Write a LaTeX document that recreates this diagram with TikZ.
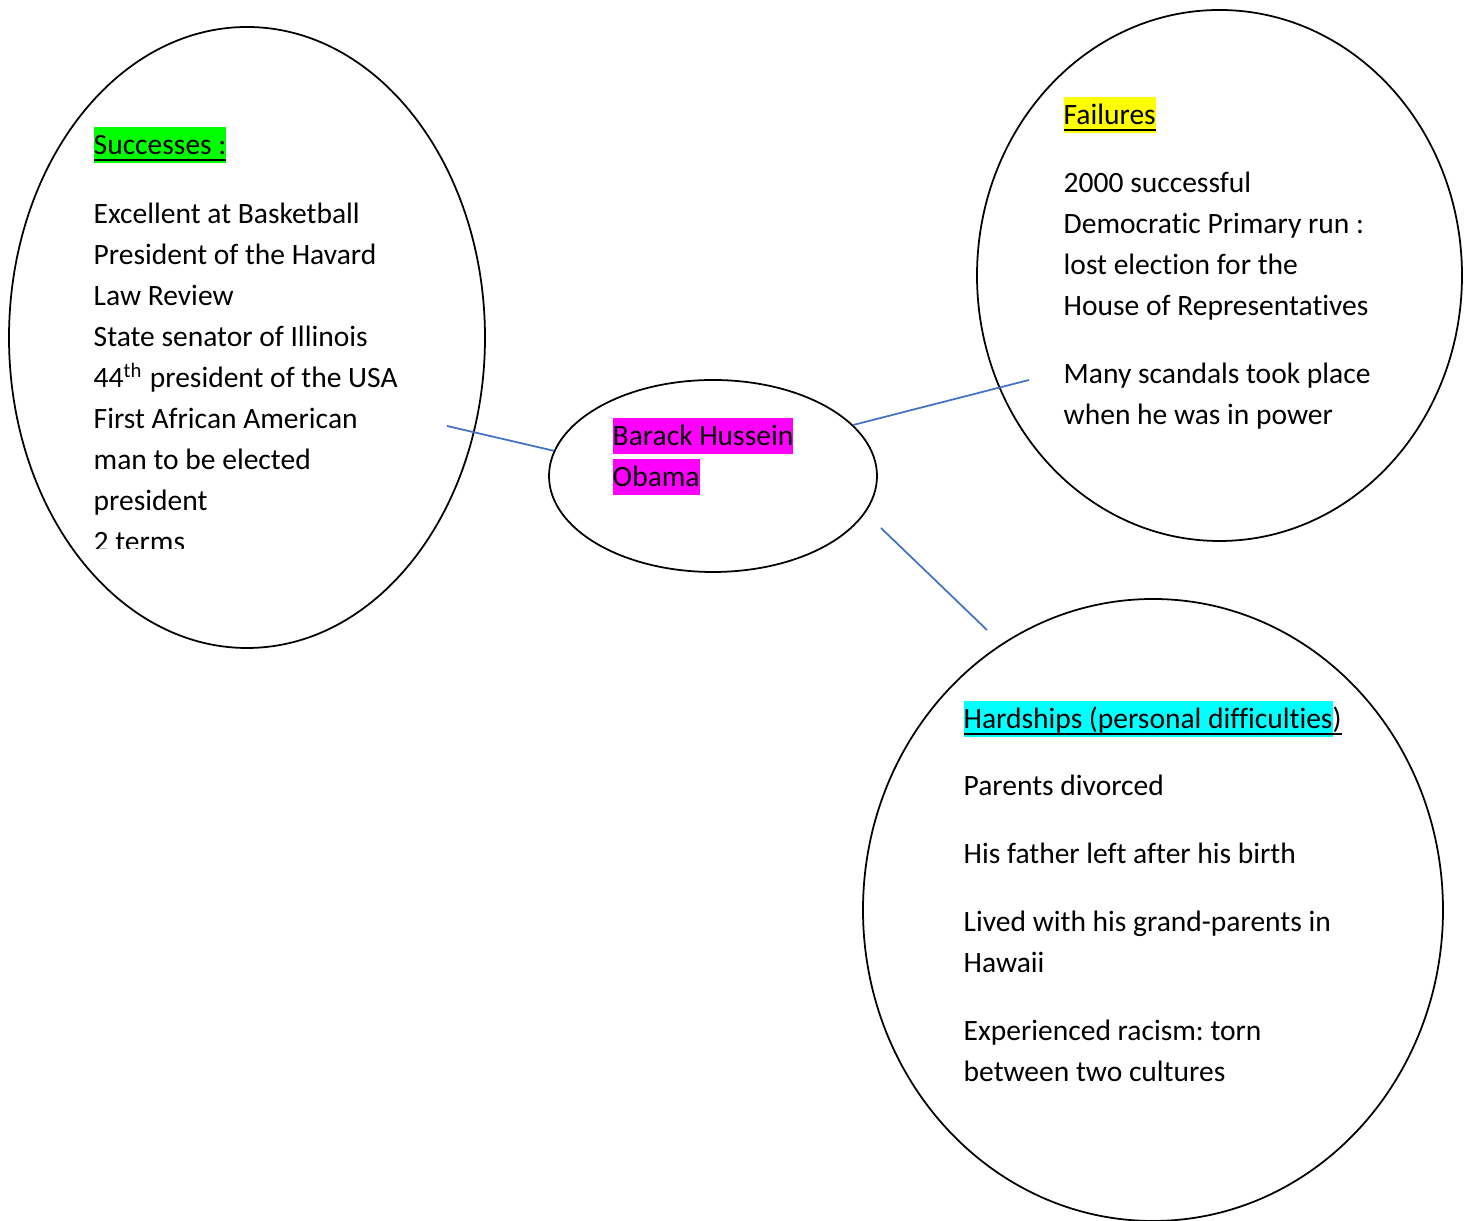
\documentclass[tikz,border=0pt]{standalone}
\usepackage{fontspec}
\setmainfont{Carlito}[Ligatures=NoCommon]
\usetikzlibrary{shapes.geometric}

\definecolor{linkblue}{HTML}{4472C4}
\definecolor{hlgreen}{HTML}{00FF00}
\definecolor{hlyellow}{HTML}{FFFF00}
\definecolor{hlcyan}{HTML}{00FFFF}
\definecolor{hlmagenta}{HTML}{FF00FF}
\newcommand{\hlbox}[2]{{\setlength{\fboxsep}{0pt}\colorbox{#1}{\rule[-0.31em]{0pt}{1.24em}#2}}}
\newcommand{\ulsmash}[1]{{\setbox0\hbox{#1}\rlap{\rule[-0.22em]{\wd0}{0.07em}}\box0}}

\begin{document}
\frenchspacing
\begin{tikzpicture}[x=0.1mm, y=-0.1mm,
    bubble/.style={draw, ellipse, line width=0.5pt, inner sep=0pt},
    blurb/.style={anchor=north west, inner sep=0pt, align=left, font=\fontsize{8.4pt}{4.1mm}\selectfont},
    link/.style={draw=linkblue, line width=0.5pt}]
  \useasboundingbox (0,0) rectangle (1467,1221);

  % Bubbles
  \node[bubble, minimum width=47.6mm, minimum height=62.1mm] (succ) at (247,337.5) {};
  \node[bubble, minimum width=32.8mm, minimum height=19.2mm] (obama) at (713,476) {};
  \node[bubble, minimum width=48.5mm, minimum height=53.1mm] (fail) at (1219.5,275.5) {};
  \node[bubble, minimum width=58mm, minimum height=62.2mm] (hard) at (1153,910) {};

  % Successes (text box cuts the last line)
  \begin{scope}
    \clip (0,0) rectangle (600,549);
    \node[blurb] (succ-text) at (93,126) {\hlbox{hlgreen}{\ulsmash{Successes :}}\\[2.8mm]
      Excellent at Basketball\\
      President of the Havard\\
      Law Review\\
      State senator of Illinois\\
      44\textsuperscript{th} president of the USA\\
      First African American\\
      man to be elected\\
      president\\
      2 terms};
  \end{scope}

  % Name
  \node[blurb] (obama-text) at (612,417) {\hlbox{hlmagenta}{Barack Hussein}\\
    \hlbox{hlmagenta}{Obama}};

  % Failures
  \node[blurb] (fail-text) at (1063,96) {\hlbox{hlyellow}{\ulsmash{Failures}}\\[2.7mm]
    2000 successful\\
    Democratic Primary run :\\
    lost election for the\\
    House of Representatives\\[2.7mm]
    Many scandals took place\\
    when he was in power};

  % Hardships
  \node[blurb] (hard-text) at (963,700) {\hlbox{hlcyan}{\ulsmash{Hardships (personal difficulties}}\ulsmash{)}\\[2.6mm]
    Parents divorced\\[2.7mm]
    His father left after his birth\\[2.7mm]
    Lived with his grand-parents in\\
    Hawaii\\[2.7mm]
    Experienced racism: torn\\
    between two cultures};

  % Connectors
  \coordinate (succ-tip) at (447,426);
  \coordinate (fail-tip) at (1029,380);
  \coordinate (hard-tail) at (881,528);
  \coordinate (hard-tip) at (987,630);
  \draw[link] (succ-tip) -- (obama.171);
  \draw[link] (obama.20) -- (fail-tip);
  \draw[link] (hard-tail) -- (hard-tip);
\end{tikzpicture}
\end{document}
